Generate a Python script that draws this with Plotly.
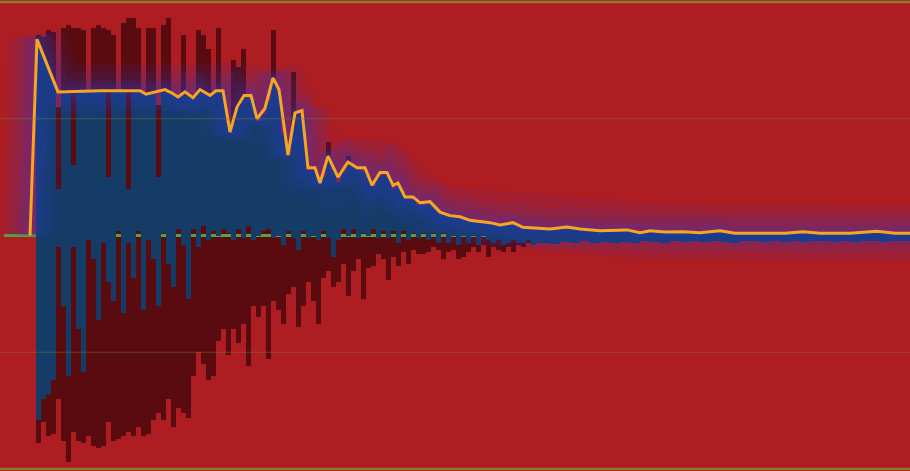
import numpy as np
import plotly.graph_objects as go

# ---------------- data ----------------
# column centres (sample frames) of the min/max waveform summary
FRAMES_DENSE = list(range(38, 539, 5))      # 101 columns
FRAMES_TAIL = list(range(545, 906, 10))     # 37 columns

# raw signal (dark red): per-column max / min
RAW_HI = [
    0.86, 0.85, 0.88, 0.87, 0.55, 0.89, 0.90, 0.89, 0.89, 0.88,
    0.56, 0.89, 0.90, 0.89, 0.88, 0.86, 0.56, 0.91, 0.93, 0.93,
    0.89, 0.60, 0.89, 0.89, 0.56, 0.90, 0.93, 0.56, 0.55, 0.86,
    0.56, 0.55, 0.88, 0.86, 0.80, 0.62, 0.89, 0.56, 0.42, 0.75,
    0.72, 0.80, 0.55, 0.52, 0.45, 0.48, 0.55, 0.88, 0.55, 0.40,
    0.32, 0.70, 0.48, 0.47, 0.26, 0.26, 0.22, 0.23, 0.40, 0.26,
    0.22, 0.24, 0.34, 0.27, 0.25, 0.24, 0.22, 0.19, 0.22, 0.23,
    0.22, 0.18, 0.19, 0.16, 0.14, 0.13, 0.12, 0.12, 0.12, 0.10,
    0.09, 0.08, 0.07, 0.07, 0.065, 0.06, 0.055, 0.05, 0.05, 0.045,
    0.045, 0.04, 0.035, 0.04, 0.04, 0.045, 0.035, 0.025, 0.025, 0.02,
    0.02,
    0.02, 0.02, 0.025, 0.02, 0.018, 0.015, 0.014, 0.014, 0.016, 0.012,
    0.013, 0.012, 0.01, 0.01, 0.01, 0.008, 0.007, 0.012, 0.011, 0.006,
    0.006, 0.005, 0.006, 0.006, 0.006, 0.008, 0.01, 0.006, 0.005, 0.006,
    0.006, 0.006, 0.008, 0.012, 0.01, 0.006, 0.005,
]
RAW_LO = [
    -0.89, -0.80, -0.86, -0.85, -0.70, -0.88, -0.97, -0.84, -0.88, -0.89,
    -0.86, -0.90, -0.91, -0.90, -0.80, -0.88, -0.87, -0.86, -0.84, -0.86,
    -0.82, -0.86, -0.85, -0.79, -0.76, -0.79, -0.70, -0.82, -0.74, -0.76,
    -0.78, -0.60, -0.50, -0.55, -0.62, -0.60, -0.45, -0.40, -0.51, -0.40,
    -0.46, -0.38, -0.56, -0.30, -0.35, -0.30, -0.53, -0.28, -0.32, -0.38,
    -0.25, -0.22, -0.39, -0.30, -0.20, -0.28, -0.38, -0.18, -0.15, -0.22,
    -0.20, -0.12, -0.26, -0.15, -0.10, -0.27, -0.14, -0.13, -0.08, -0.10,
    -0.19, -0.09, -0.13, -0.07, -0.12, -0.06, -0.08, -0.08, -0.07, -0.05,
    -0.06, -0.10, -0.07, -0.06, -0.10, -0.09, -0.07, -0.05, -0.07, -0.04,
    -0.09, -0.05, -0.06, -0.07, -0.05, -0.07, -0.04, -0.05, -0.03, -0.03,
    -0.02,
    -0.03, -0.028, -0.025, -0.027, -0.022, -0.025, -0.022, -0.026, -0.02, -0.024,
    -0.02, -0.022, -0.024, -0.02, -0.022, -0.018, -0.022, -0.02, -0.02, -0.024,
    -0.018, -0.02, -0.022, -0.018, -0.02, -0.019, -0.021, -0.018, -0.02, -0.022,
    -0.018, -0.02, -0.019, -0.018, -0.021, -0.02, -0.018,
]

# processed signal (blue): per-column max / min
PROC_HI = [
    0.83, 0.77, 0.72, 0.66, 0.20, 0.615, 0.615, 0.30, 0.615, 0.615,
    0.615, 0.615, 0.615, 0.615, 0.25, 0.615, 0.615, 0.615, 0.20, 0.615,
    0.615, 0.615, 0.615, 0.615, 0.25, 0.615, 0.615, 0.61, 0.59, 0.615,
    0.60, 0.59, 0.62, 0.61, 0.60, 0.61, 0.62, 0.61, 0.48, 0.48,
    0.55, 0.59, 0.59, 0.57, 0.49, 0.52, 0.58, 0.66, 0.62, 0.44,
    0.34, 0.46, 0.52, 0.50, 0.28, 0.28, 0.24, 0.25, 0.33, 0.28,
    0.23, 0.27, 0.31, 0.30, 0.28, 0.27, 0.25, 0.21, 0.25, 0.26,
    0.25, 0.20, 0.21, 0.18, 0.16, 0.15, 0.13, 0.13, 0.14, 0.12,
    0.10, 0.09, 0.08, 0.08, 0.075, 0.07, 0.065, 0.06, 0.055, 0.055,
    0.05, 0.05, 0.04, 0.045, 0.045, 0.05, 0.04, 0.03, 0.03, 0.025,
    0.025,
    0.025, 0.025, 0.03, 0.027, 0.022, 0.018, 0.017, 0.017, 0.02, 0.014,
    0.016, 0.015, 0.012, 0.012, 0.012, 0.01, 0.009, 0.015, 0.013, 0.007,
    0.008, 0.006, 0.007, 0.008, 0.008, 0.01, 0.013, 0.008, 0.006, 0.008,
    0.008, 0.008, 0.01, 0.015, 0.012, 0.008, 0.007,
]
PROC_LO = [
    -0.79, -0.70, -0.68, -0.62, -0.05, -0.30, -0.60, -0.05, -0.40, -0.585,
    -0.02, -0.10, -0.36, -0.03, -0.20, -0.28, 0.02, -0.33, -0.03, -0.18,
    0.02, -0.32, -0.02, -0.10, -0.30, 0.01, -0.12, -0.22, 0.03, -0.04,
    -0.27, 0.03, -0.05, 0.04, -0.02, 0.02, 0.0, 0.03, 0.01, -0.02,
    0.03, -0.01, 0.04, -0.02, 0.0, 0.02, 0.03, -0.01, 0.0, -0.04,
    0.02, -0.01, -0.06, 0.02, -0.01, 0.0, -0.02, 0.02, -0.01, -0.09,
    -0.02, 0.03, 0.0, 0.03, -0.01, 0.01, 0.0, 0.03, -0.01, 0.02,
    -0.01, 0.02, -0.03, 0.02, -0.02, 0.01, -0.01, 0.01, -0.02, 0.01,
    -0.03, 0.01, -0.03, 0.0, -0.04, 0.0, -0.03, 0.0, -0.04, 0.0,
    -0.02, -0.03, -0.02, -0.04, -0.03, -0.02, -0.03, -0.03, -0.02, -0.04,
    -0.03,
    -0.03, -0.035, -0.028, -0.032, -0.025, -0.03, -0.027, -0.033, -0.026, -0.03,
    -0.024, -0.028, -0.03, -0.025, -0.027, -0.022, -0.028, -0.024, -0.026, -0.03,
    -0.022, -0.025, -0.028, -0.023, -0.026, -0.024, -0.027, -0.022, -0.025, -0.028,
    -0.023, -0.026, -0.024, -0.022, -0.027, -0.025, -0.023,
]

# envelope (orange)
ENV_T = [30, 37, 58, 100, 140, 146, 165, 172, 178, 185, 193, 200, 210, 216, 223,
         230, 237, 244, 251, 257, 265, 273, 279, 288, 295, 302, 308, 315, 320, 328,
         338, 348, 357, 365, 372, 380, 387, 393, 398, 405, 413, 420, 430, 440, 450,
         460, 470, 480, 490, 500, 513, 523, 537, 550, 567, 580, 600, 627, 640, 650,
         665, 683, 700, 720, 735, 760, 785, 803, 820, 850, 877, 895, 910]
ENV_V = [0.0, 0.84, 0.615, 0.62, 0.62, 0.605, 0.625, 0.61, 0.593, 0.615, 0.59, 0.625, 0.60, 0.62, 0.62,
         0.443, 0.55, 0.60, 0.60, 0.50, 0.545, 0.675, 0.625, 0.345, 0.525, 0.535, 0.29, 0.29, 0.225, 0.34,
         0.25, 0.315, 0.29, 0.29, 0.215, 0.27, 0.27, 0.215, 0.225, 0.165, 0.165, 0.14, 0.145, 0.10, 0.085,
         0.08, 0.065, 0.06, 0.055, 0.045, 0.055, 0.035, 0.03, 0.028, 0.036, 0.028, 0.02, 0.024, 0.012, 0.02,
         0.015, 0.016, 0.012, 0.02, 0.01, 0.009, 0.01, 0.016, 0.01, 0.01, 0.018, 0.01, 0.01]

GRID_VALUES = [-0.5, 0.5]
BORDER_VALUES = [-1.0, 1.0]

# ---------------- style ----------------
BG = "#ad1d22"
RAW_COLOR = "#5a0b10"
PROC_COLOR = "#153c66"
ZERO_COLOR = "#58a040"
ENV_COLOR = "#f5a623"
GLOW = [(56, 0.09), (40, 0.11), (26, 0.13), (14, 0.15)]

frames = np.array(FRAMES_DENSE + FRAMES_TAIL, dtype=float)
step = np.where(frames < 540, 5.0, 10.0)
raw_hi, raw_lo = np.array(RAW_HI), np.array(RAW_LO)
proc_hi, proc_lo = np.array(PROC_HI), np.array(PROC_LO)

fig = go.Figure()
fig.add_trace(go.Bar(x=frames, y=raw_hi - raw_lo, base=raw_lo, width=step,
                     marker=dict(color=RAW_COLOR, line=dict(width=0)), opacity=1,
                     hoverinfo="skip"))
# zero reference line (drawn as a thin bar so it sits between the two waveforms)
fig.add_trace(go.Bar(x=[(4 + 910) / 2], y=[0.012], base=[-0.006], width=[906],
                     marker=dict(color=ZERO_COLOR, line=dict(width=0)), opacity=1,
                     hoverinfo="skip"))
fig.add_trace(go.Bar(x=frames, y=proc_hi - proc_lo, base=proc_lo, width=step,
                     marker=dict(color=PROC_COLOR, line=dict(width=0)), opacity=1,
                     hoverinfo="skip"))
for w, a in GLOW:
    fig.add_trace(go.Scatter(x=ENV_T, y=ENV_V, mode="lines",
                             line=dict(color=f"rgba(45,60,205,{a})", width=w),
                             hoverinfo="skip"))
fig.add_trace(go.Scatter(x=ENV_T, y=ENV_V, mode="lines",
                         line=dict(color=ENV_COLOR, width=3), hoverinfo="skip"))

shapes = []
for v in GRID_VALUES:
    shapes.append(dict(type="line", xref="paper", x0=0, x1=1, yref="y", y0=v, y1=v,
                       line=dict(color="rgba(120,130,40,0.45)", width=1.2), layer="above"))
for v in BORDER_VALUES:
    shapes.append(dict(type="line", xref="paper", x0=0, x1=1, yref="y", y0=v, y1=v,
                       line=dict(color="#8f7a2c", width=2.5), layer="above"))

fig.update_layout(
    width=910, height=471,
    margin=dict(l=0, r=0, t=0, b=0),
    paper_bgcolor=BG, plot_bgcolor=BG,
    showlegend=False, barmode="overlay", bargap=0,
    xaxis=dict(range=[0, 910], visible=False, fixedrange=True),
    yaxis=dict(range=[-1.0086, 1.0086], showgrid=False, zeroline=False,
               showticklabels=False, showline=False, fixedrange=True),
    shapes=shapes,
)
fig.write_html(
    "out.html",
    config={"displayModeBar": False},
    post_script="document.body.style.margin='0';document.body.style.overflow='hidden';",
)
